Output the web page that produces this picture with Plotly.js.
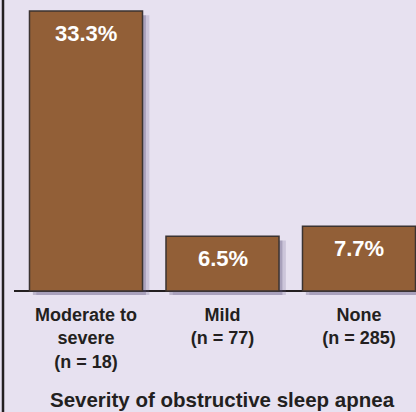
<!DOCTYPE html>
<html>
<head>
<meta charset="utf-8">
<script src="https://cdn.plot.ly/plotly-3.0.1.min.js"></script>
<style>
  html, body { margin: 0; padding: 0; background: #e7e1f0; }
  #chart { width: 416px; height: 412px; }
</style>
</head>
<body>
<div id="chart"></div>
<script>
// ---- data ----
const categories = ["Moderate to severe", "Mild", "None"];
const percentages = [33.3, 6.5, 7.7];
const sampleSizes = [18, 77, 285];
const labelLines = [
  ["Moderate to", "severe", "(n = 18)"],
  ["Mild", "(n = 77)"],
  ["None", "(n = 285)"]
];
const valueLabels = ["33.3%", "6.5%", "7.7%"];
const axisTitle = "Severity of obstructive sleep apnea";

// ---- styles ----
const bg = "#e7e1f0";
const barColor = "#925f37";
const ink = "#231f20";
const sans = "'Liberation Sans', Arial, sans-serif";
const barWidth = 0.828;

const shadow1 = {
  type: "bar", x: categories, y: percentages, base: -0.5,
  width: barWidth, offset: -barWidth / 2 + 0.05,
  marker: { color: "rgba(110,100,140,0.22)", line: { width: 0 } },
  hoverinfo: "skip", showlegend: false
};
const shadow2 = {
  type: "bar", x: categories, y: percentages, base: -0.5,
  width: barWidth, offset: -barWidth / 2 + 0.025,
  marker: { color: "rgba(90,80,120,0.30)", line: { width: 0 } },
  hoverinfo: "skip", showlegend: false
};
const bars = {
  type: "bar", x: categories, y: percentages,
  width: barWidth, offset: -barWidth / 2,
  marker: { color: barColor, line: { color: "#3b3331", width: 1.5 } },
  hoverinfo: "x+y", showlegend: false
};

const annotations = categories.map((c, i) => ({
  x: c, y: percentages[i], xref: "x", yref: "y",
  text: "<b>" + valueLabels[i] + "</b>", showarrow: false,
  xanchor: "center", yanchor: "top", yshift: -8,
  font: { family: sans, size: 22, color: "#ffffff" }
}));

const tickText = labelLines.map(lines => "<b>" + lines.join("<br>") + "</b>");

const layout = {
  width: 416, height: 412,
  margin: { l: 14, r: 0, t: 0, b: 111, pad: 0 },
  paper_bgcolor: bg, plot_bgcolor: bg,
  barmode: "overlay",
  title: {
    text: "<b>" + axisTitle + "</b>",
    font: { family: sans, size: 20.5, color: ink },
    xref: "container", yref: "container",
    x: 222 / 416, xanchor: "center", y: 0.011, yanchor: "bottom"
  },
  xaxis: {
    type: "category", range: [-0.5275, 2.4176],
    tickmode: "array", tickvals: categories, ticktext: tickText,
    tickfont: { family: sans, size: 18, color: ink },
    ticks: "", ticklabelstandoff: 1, showgrid: false,
    zeroline: false, showline: false, fixedrange: true, automargin: false
  },
  yaxis: {
    range: [-1.2, 34.6], showticklabels: false, ticks: "",
    showgrid: false, zeroline: true, zerolinecolor: ink, zerolinewidth: 2.5,
    showline: false, fixedrange: true
  },
  shapes: [{
    type: "line", xref: "paper", yref: "paper",
    x0: -11 / 402, x1: -11 / 402, y0: -0.5, y1: 1.05,
    line: { color: ink, width: 2.5 }, layer: "above"
  }],
  annotations: annotations,
  showlegend: false
};

Plotly.newPlot("chart", [shadow1, shadow2, bars], layout, { displayModeBar: false, staticPlot: true });
</script>
</body>
</html>
